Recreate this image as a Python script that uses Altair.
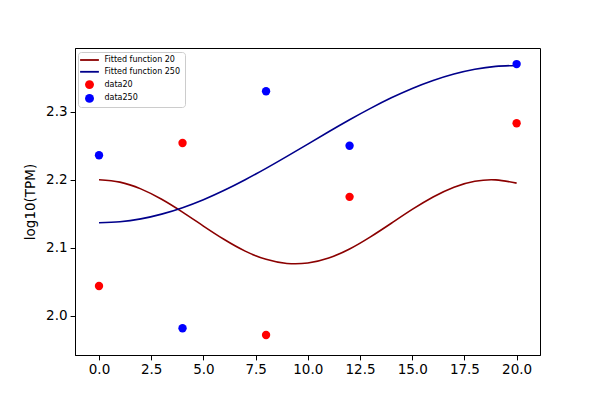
import altair as alt
import pandas as pd

# Scatter data
x_pts = [0, 4, 8, 12, 20]
data20 = [2.044, 2.254, 1.972, 2.175, 2.283]
data250 = [2.236, 1.982, 2.330, 2.250, 2.370]

# Fitted curves (values at integer x)
x_fit = list(range(0, 21))
fit20 = [2.2000, 2.1966, 2.1867, 2.1715, 2.1526, 2.1321, 2.1123, 2.0953, 2.0833,
         2.0772, 2.0778, 2.0851, 2.0984, 2.1162, 2.1362, 2.1565, 2.1748, 2.1892,
         2.1978, 2.1999, 2.1951]
fit250 = [2.1370, 2.1384, 2.1426, 2.1496, 2.1591, 2.1708, 2.1846, 2.2001, 2.2168,
          2.2344, 2.2525, 2.2706, 2.2882, 2.3049, 2.3204, 2.3342, 2.3459, 2.3554,
          2.3624, 2.3666, 2.3680]

labels = ["Fitted function 20", "Fitted function 250", "data20", "data250"]
colors = ["#8b0000", "#00008b", "#ff0000", "#0000ff"]

lines = pd.DataFrame(
    [{"x": x, "y": y, "series": labels[0]} for x, y in zip(x_fit, fit20)]
    + [{"x": x, "y": y, "series": labels[1]} for x, y in zip(x_fit, fit250)]
)
pts = pd.DataFrame(
    [{"x": x, "y": y, "series": labels[2]} for x, y in zip(x_pts, data20)]
    + [{"x": x, "y": y, "series": labels[3]} for x, y in zip(x_pts, data250)]
)

is_line = "indexof(['Fitted function 20','Fitted function 250'], datum.value) >= 0"

legend = alt.Legend(
    title=None,
    orient="none",
    legendX=3,
    legendY=4,
    labelFontSize=8,
    labelFont="DejaVu Sans",
    labelColor="#000000",
    symbolType={"expr": f"{is_line} ? 'M-2.1,0H2.1' : 'circle'"},
    symbolSize=80,
    symbolStrokeWidth={"expr": f"{is_line} ? 1.8 : 0"},
    symbolStrokeColor={"expr": f"{is_line} ? scale('color', datum.value) : 'transparent'"},
    symbolOpacity=1,
    symbolOffset=3.5,
    rowPadding=3.8,
    padding=4,
    fillColor="white",
    strokeColor="#cccccc",
    cornerRadius=3,
    labelOffset=11,
)

color = alt.Color("series:N", scale=alt.Scale(domain=labels, range=colors), legend=legend)

xs = alt.X("x:Q", scale=alt.Scale(domain=[-1.15, 21.12], nice=False, zero=False),
           axis=alt.Axis(title=None, values=[0, 2.5, 5, 7.5, 10, 12.5, 15, 17.5, 20],
                         format=".1f", grid=False))
ys = alt.Y("y:Q", scale=alt.Scale(domain=[1.9427, 2.3936], nice=False, zero=False),
           axis=alt.Axis(title="log10(TPM)", values=[2.0, 2.1, 2.2, 2.3], format=".1f",
                         grid=False))

line_layer = alt.Chart(lines).mark_line(strokeWidth=1.6, interpolate="natural").encode(
    x=xs, y=ys, color=color, detail="series:N"
)
pt_layer = alt.Chart(pts).mark_circle(size=70, opacity=1).encode(
    x=xs, y=ys, color=color
)

chart = alt.layer(line_layer, pt_layer).properties(
    width=465, height=307,
    autosize=alt.AutoSizeParams(type="none"),
    padding={"left": 67, "top": 40, "right": 50, "bottom": 30},
).configure_view(
    stroke="black", strokeWidth=1
).configure_axis(
    domainColor="black", tickColor="black", labelColor="black", titleColor="black",
    tickSize=4.9, labelPadding=3, labelFont="DejaVu Sans", titleFont="DejaVu Sans",
    labelFontSize=13.5, titleFontSize=13.5, titleFontWeight="normal", domainWidth=1,
    tickWidth=1,
).configure_axisY(titlePadding=8)

chart.save("out.html", embed_options={"renderer": "svg", "actions": False})
